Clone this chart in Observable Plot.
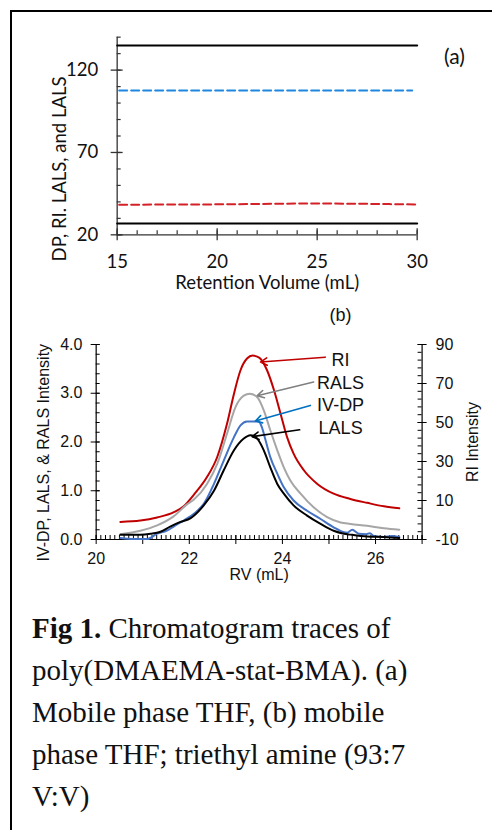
<!DOCTYPE html>
<html>
<head>
<meta charset="utf-8">
<script src="https://cdn.jsdelivr.net/npm/d3@7"></script>
<script src="https://cdn.jsdelivr.net/npm/@observablehq/plot@0.6"></script>
<style>
  html, body { margin: 0; padding: 0; background: #fff; }
  #page { position: relative; width: 492px; height: 830px; overflow: hidden; background: #fff; }
  #frame { position: absolute; left: 10px; top: 10px; width: 490px; height: 830px;
           border-left: 2px solid #000; border-top: 2px solid #000; }
  #top, #bottom { position: absolute; left: 0; }
  #top { top: 0; }
  #bottom { top: 300px; }
  #caption { position: absolute; left: 32px; top: 607px; font-family: "Liberation Serif", "Times New Roman", serif;
             font-size: 29px; line-height: 42px; color: #111; white-space: nowrap; }
  svg { overflow: visible; }
</style>
</head>
<body>
<div id="page">
  <div id="frame"></div>
  <div id="top"></div>
  <div id="bottom"></div>
  <div id="caption"><b>Fig 1.</b> Chromatogram traces of<br>poly(DMAEMA-stat-BMA). (a)<br>Mobile phase THF, (b) mobile<br>phase THF; triethyl amine (93:7<br>V:V)</div>
</div>
<script>
// ---------- Panel (a) data ----------
const aXTicks = [15, 20, 25, 30];
const aYTicks = [20, 70, 120];
const aTopBlackX = [15, 30];
const aTopBlackY = [135, 135];
const aBlueX = [15.1, 29.75];
const aBlueY = [107.6, 107.6];
const aRedX = [15.1, 20, 25, 30];
const aRedY = [38.3, 38.5, 39.0, 38.4];
const aBotBlackX = [15, 30];
const aBotBlackY = [26.9, 26.9];

// ---------- Panel (b) data ----------
const bXTicks = [20, 22, 24, 26];
const bYTicks = [0, 1, 2, 3, 4];
const bRITicks = [-10, 10, 30, 50, 70, 90];

// RI (right axis units)
const riRV = [20.52, 20.95, 21.31, 21.67, 21.88, 22.10, 22.38, 22.60, 22.81, 22.96, 23.10, 23.24, 23.36, 23.50, 23.67, 23.82, 23.96, 24.10, 24.24, 24.46, 24.75, 25.10, 25.46, 25.82, 26.18, 26.51];
const riVal = [-1, -0.3, 1.3, 4, 7, 13, 22, 32.3, 49.3, 64.8, 76.8, 82.8, 84.3, 83.3, 76.8, 66.5, 54.5, 42.5, 34, 25.5, 18.5, 13.5, 10.8, 8.8, 7, 6];

// RALS (left axis)
const ralsRV = [20.52, 20.95, 21.31, 21.67, 21.95, 22.10, 22.38, 22.60, 22.81, 22.99, 23.17, 23.30, 23.46, 23.60, 23.74, 23.89, 24.03, 24.17, 24.39, 24.67, 24.96, 25.25, 25.46, 25.82, 26.18, 26.51];
const ralsVal = [0.11, 0.18, 0.29, 0.48, 0.72, 0.82, 1.14, 1.55, 2.17, 2.71, 2.95, 2.99, 2.92, 2.65, 2.24, 1.83, 1.48, 1.21, 0.94, 0.66, 0.46, 0.35, 0.32, 0.28, 0.23, 0.20];

// IV-DP (left axis)
const ivRV = [20.52, 20.80, 21.10, 21.31, 21.52, 21.67, 21.88, 22.10, 22.31, 22.53, 22.74, 22.96, 23.10, 23.24, 23.35, 23.49, 23.56, 23.64, 23.74, 23.89, 24.03, 24.24, 24.53, 24.82, 25.10, 25.32, 25.39, 25.50, 25.64, 25.80, 25.88, 25.96, 26.18, 26.35, 26.51];
const ivVal = [0.03, 0.01, 0.01, 0.12, 0.18, 0.27, 0.39, 0.53, 0.73, 1.14, 1.62, 2.10, 2.34, 2.42, 2.42, 2.42, 2.30, 2.03, 1.69, 1.35, 1.07, 0.80, 0.59, 0.42, 0.25, 0.15, 0.14, 0.20, 0.12, 0.11, 0.13, 0.07, 0.05, 0.07, 0.05];

// LALS (left axis)
const lalsRV = [20.52, 20.95, 21.17, 21.38, 21.60, 21.81, 22.03, 22.31, 22.53, 22.74, 22.96, 23.17, 23.31, 23.40, 23.46, 23.60, 23.74, 23.89, 24.03, 24.24, 24.53, 24.82, 25.10, 25.32, 25.46, 25.82, 26.18, 26.51];
const lalsVal = [0.10, 0.10, 0.12, 0.16, 0.27, 0.36, 0.44, 0.70, 1.00, 1.42, 1.83, 2.07, 2.14, 2.12, 2.07, 1.83, 1.48, 1.14, 0.94, 0.70, 0.49, 0.32, 0.18, 0.12, 0.10, 0.06, 0.05, 0.03];

// Annotation arrows (labels, start and tip in data units of left axis)
const annLabels = ["RI", "RALS", "IV-DP", "LALS"];
const annTextX = [25.25, 25.25, 25.25, 25.25];
const annTextY = [3.67, 3.21, 2.75, 2.29];
const annX1 = [24.92, 24.67, 24.60, 24.37];
const annY1 = [3.74, 3.23, 2.75, 2.25];
const annX2 = [23.53, 23.46, 23.42, 23.35];
const annY2 = [3.64, 2.95, 2.43, 2.11];
const annColors = ["#c00000", "#808080", "#0070c0", "#000000"];

// ---------- Panel (a) ----------
{
  const W = 492, H = 300, mL = 116.67, mR = 75.33, mT = 36.67, mB = 65.67;
  const iW = W - mL - mR, iH = H - mT - mB;
  const ax = "#333";
  const fs = 18.5;
  const chart = Plot.plot({
    width: W, height: H, marginLeft: mL, marginRight: mR, marginTop: mT, marginBottom: mB,
    x: {domain: [15, 30], axis: null},
    y: {domain: [20, 140], axis: null},
    style: {fontFamily: "Lato, 'Open Sans', sans-serif", fontSize: fs + "px", background: "transparent", overflow: "visible"},
    marks: [
      Plot.ruleX(d3.range(15, 30.01, 1), {stroke: ax, strokeWidth: 1.2, insetTop: iH - 4}),
      Plot.ruleX(aXTicks, {stroke: ax, strokeWidth: 1.3, insetTop: iH - 6, insetBottom: -6}),
      Plot.ruleY(d3.range(20, 140.01, 10), {stroke: ax, strokeWidth: 1.2, insetRight: iW - 4}),
      Plot.ruleY(aYTicks, {stroke: ax, strokeWidth: 1.3, insetLeft: -6, insetRight: iW - 6}),
      Plot.ruleX([15], {stroke: ax, strokeWidth: 1.3}),
      Plot.ruleY([20], {stroke: ax, strokeWidth: 1.3}),
      Plot.line(aTopBlackY, {x: aTopBlackX, y: aTopBlackY, stroke: "#000", strokeWidth: 2}),
      Plot.line(aBlueY, {x: aBlueX, y: aBlueY, stroke: "#1f86e0", strokeWidth: 2, strokeDasharray: "8,4"}),
      Plot.line(aRedY, {x: aRedX, y: aRedY, stroke: "#d42027", strokeWidth: 2, strokeDasharray: "8,4", curve: "monotone-x"}),
      Plot.line(aBotBlackY, {x: aBotBlackX, y: aBotBlackY, stroke: "#000", strokeWidth: 2}),
      Plot.text(aXTicks, {x: d => d, frameAnchor: "bottom", lineAnchor: "middle", dy: 27.7, text: d => String(d), fill: "#111", fontSize: fs}),
      Plot.text(aYTicks, {y: d => d, frameAnchor: "left", dx: -19, textAnchor: "end", text: d => String(d), fill: "#111", fontSize: fs}),
      Plot.text(["Retention Volume (mL)"], {frameAnchor: "bottom", lineAnchor: "middle", textAnchor: "middle", dy: 48.7, text: d => d, fill: "#111", fontSize: fs}),
      Plot.text(["DP, RI. LALS, and LALS"], {frameAnchor: "left", textAnchor: "middle", lineAnchor: "middle", dx: -56.67, dy: 33, rotate: -90, text: d => d, fill: "#111", fontSize: fs}),
      Plot.text(["(a)"], {x: [31.86], y: [127.8], text: d => d, fill: "#111", fontSize: 21})
    ]
  });
  document.getElementById("top").appendChild(chart);
}

// ---------- Panel (b) ----------
{
  const W = 492, H = 290, mL = 95.67, mR = 70.4, mT = 44, mB = 51;
  const iW = W - mL - mR, iH = H - mT - mB;
  const toL = ri => (ri + 10) / 25;
  const ax = "#000";
  const marks = [
    Plot.ruleX(d3.range(20, 27.001, 0.1), {stroke: ax, strokeWidth: 1, insetTop: iH - 4}),
    Plot.ruleX(d3.range(20, 27.001, 1), {stroke: ax, strokeWidth: 1, insetTop: iH - 4, insetBottom: -5}),
    Plot.ruleY(d3.range(0, 4.001, 0.2), {stroke: ax, strokeWidth: 1, insetRight: iW - 4}),
    Plot.ruleY(bYTicks, {stroke: ax, strokeWidth: 1, insetLeft: -5, insetRight: iW - 4}),
    Plot.ruleY(d3.range(-10, 90.01, 4).map(toL), {stroke: ax, strokeWidth: 1, insetLeft: iW - 4}),
    Plot.ruleY(bRITicks.map(toL), {stroke: ax, strokeWidth: 1, insetLeft: iW - 4, insetRight: -5}),
    Plot.ruleX([20, 27], {stroke: ax, strokeWidth: 1.2}),
    Plot.ruleY([0], {stroke: ax, strokeWidth: 1.2}),
    Plot.line(riVal, {x: riRV, y: riVal.map(toL), stroke: "#c00000", strokeWidth: 2, curve: "monotone-x"}),
    Plot.line(ralsVal, {x: ralsRV, y: ralsVal, stroke: "#a6a6a6", strokeWidth: 2, curve: "monotone-x"}),
    Plot.line(ivVal, {x: ivRV, y: ivVal, stroke: "#4472c4", strokeWidth: 2, curve: "monotone-x"}),
    Plot.line(lalsVal, {x: lalsRV, y: lalsVal, stroke: "#000", strokeWidth: 2, curve: "monotone-x"}),
    Plot.text(bXTicks, {x: d => d, frameAnchor: "bottom", lineAnchor: "middle", dy: 19.3, text: d => String(d), fill: "#111", fontSize: 16}),
    Plot.text(bYTicks, {y: d => d, frameAnchor: "left", dx: -13.7, textAnchor: "end", text: d => d.toFixed(1), fill: "#111", fontSize: 16}),
    Plot.text(bRITicks, {y: d => toL(d), frameAnchor: "right", dx: 13.4, textAnchor: "start", text: d => String(d), fill: "#111", fontSize: 16}),
    Plot.text(["RV (mL)"], {frameAnchor: "bottom", lineAnchor: "middle", textAnchor: "middle", dy: 35, text: d => d, fill: "#111", fontSize: 16}),
    Plot.text(["IV-DP, LALS, & RALS Intensity"], {frameAnchor: "left", textAnchor: "middle", lineAnchor: "middle", dx: -52.67, dy: 10.7, rotate: -90, text: d => d, fill: "#111", fontSize: 16}),
    Plot.text(["RI Intensity"], {frameAnchor: "right", textAnchor: "middle", lineAnchor: "middle", dx: 50.4, rotate: -90, text: d => d, fill: "#111", fontSize: 16}),
    Plot.text(["(b)"], {x: [25.25], y: [4.595], text: d => d, fill: "#111", fontSize: 18})
  ];
  annLabels.forEach((lab, i) => {
    marks.push(Plot.arrow([lab], {x1: [annX1[i]], y1: [annY1[i]], x2: [annX2[i]], y2: [annY2[i]],
      stroke: annColors[i], strokeWidth: 1.6, headLength: 7}));
    marks.push(Plot.text([lab], {x: [annTextX[i]], y: [annTextY[i]], text: d => d, fill: "#111", fontSize: 18}));
  });
  const chart = Plot.plot({
    width: W, height: H, marginLeft: mL, marginRight: mR, marginTop: mT, marginBottom: mB,
    x: {domain: [20, 27], axis: null},
    y: {domain: [0, 4], axis: null},
    style: {fontFamily: "'Liberation Sans', Arial, sans-serif", fontSize: "16px", background: "transparent", overflow: "visible"},
    marks
  });
  document.getElementById("bottom").appendChild(chart);
}
</script>
</body>
</html>
